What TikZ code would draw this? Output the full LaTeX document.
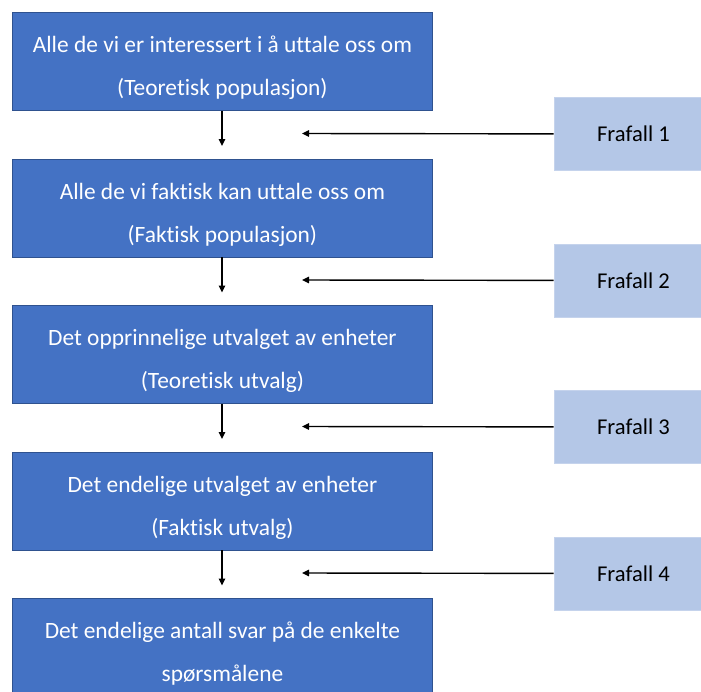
\documentclass[tikz,border=0pt]{standalone}
\usepackage{fontspec}
\setmainfont[Ligatures={NoCommon}]{Carlito}
\usetikzlibrary{arrows.meta}
\definecolor{stageblue}{HTML}{4472C4}
\definecolor{stageedge}{HTML}{2F528F}
\definecolor{lossfill}{HTML}{B4C7E7}
\definecolor{lossedge}{HTML}{C5D3EC}
\tikzset{
  stagebox/.style={draw=stageedge, fill=stageblue, line width=0.8pt,
    minimum width=420pt, minimum height=98pt, inner sep=0pt, anchor=north west},
  stagetext/.style={text=white, align=center, inner sep=0pt,
    font=\fontsize{23.4}{43}\selectfont},
  lossbox/.style={draw=lossedge, fill=lossfill, line width=0.8pt,
    minimum width=150pt, minimum height=73pt, inner sep=0pt, anchor=north west,
    font=\fontsize{22.6}{26}\selectfont},
  flow/.style={line width=1.4pt, -{Triangle[length=7pt,width=6.5pt]}}
}
\begin{document}
\begin{tikzpicture}[x=1pt,y=-1pt]
\useasboundingbox (0,0) rectangle (701,691);
\clip (0,0) rectangle (701,691);

% stages of the sample
\node[stagebox] (s1) at (12,12) {};
\node[stagebox] (s2) at (12,158.5) {};
\node[stagebox] (s3) at (12,305) {};
\node[stagebox] (s4) at (12,451.5) {};
\node[stagebox] (s5) at (12,598) {};

\node[stagetext] (s1t) at ([yshift=-6.5pt]s1.center) {Alle de vi er interessert i å uttale oss om\\(Teoretisk populasjon)};
\node[stagetext] (s2t) at ([yshift=-6.5pt]s2.center) {Alle de vi faktisk kan uttale oss om\\(Faktisk populasjon)};
\node[stagetext] (s3t) at ([yshift=-6.5pt]s3.center) {Det opprinnelige utvalget av enheter\\(Teoretisk utvalg)};
\node[stagetext] (s4t) at ([yshift=-6.5pt]s4.center) {Det endelige utvalget av enheter\\(Faktisk utvalg)};
\node[stagetext] (s5t) at ([yshift=-6.5pt]s5.center) {Det endelige antall svar på de enkelte\\spørsmålene};

% dropout boxes
\node[lossbox] (f1) at (553.5,97) {\hspace*{9pt}Frafall 1};
\node[lossbox] (f2) at (553.5,243.5) {\hspace*{9pt}Frafall 2};
\node[lossbox] (f3) at (553.5,390) {\hspace*{9pt}Frafall 3};
\node[lossbox] (f4) at (553.5,536.5) {\hspace*{9pt}Frafall 4};

% arrow ends
\coordinate (d1) at (222,146);
\coordinate (d2) at (222,292.5);
\coordinate (d3) at (222,439);
\coordinate (d4) at (222,585.5);
\coordinate (l1) at (302,133.5);
\coordinate (l2) at (302,280);
\coordinate (l3) at (302,426.5);
\coordinate (l4) at (302,573);

\foreach \a/\b in {s1/d1,s2/d2,s3/d3,s4/d4}
  \draw[flow] (\a.south -| \b) -- (\b);
\foreach \a/\b in {f1/l1,f2/l2,f3/l3,f4/l4}
  \draw[flow] (\a.west) -- (\b);
\end{tikzpicture}
\end{document}
